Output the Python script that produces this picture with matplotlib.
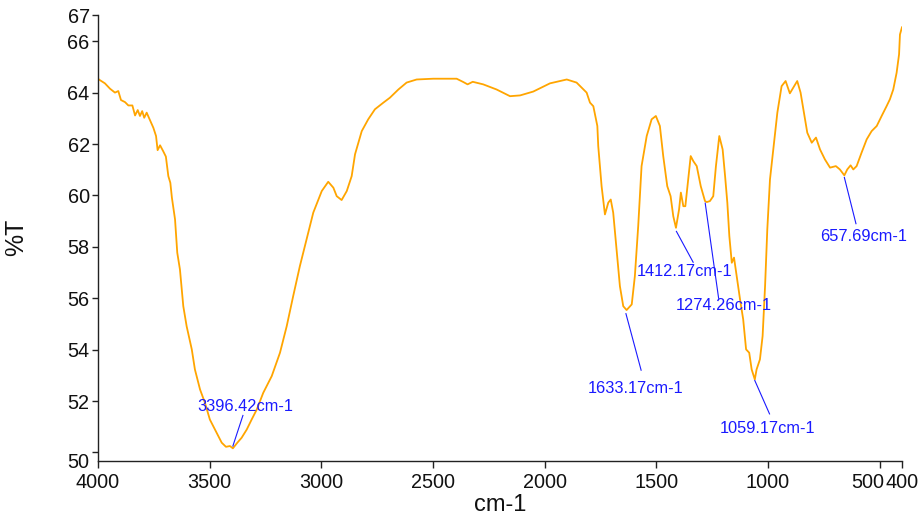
import matplotlib
matplotlib.use("Agg")
import matplotlib.pyplot as plt
from matplotlib.transforms import ScaledTranslation

plt.rcParams['font.family'] = ['Liberation Sans', 'DejaVu Sans']

# Spectrum (wavenumber cm-1, %T)
wavenumber = [4000, 3996, 3969, 3946, 3924, 3909, 3897, 3879, 3864, 3846, 3834, 3822, 3812,
              3802, 3793, 3782, 3767, 3752, 3740, 3733, 3722, 3708, 3696, 3685, 3676, 3669,
              3655, 3645, 3633, 3618, 3603, 3580, 3566, 3543, 3521, 3499, 3469, 3446, 3427,
              3409, 3396, 3376, 3357, 3334, 3312, 3289, 3260, 3222, 3185, 3155, 3126, 3096,
              3066, 3036, 2998, 2969, 2946, 2931, 2909, 2886, 2864, 2849, 2819, 2790, 2760,
              2722, 2693, 2655, 2618, 2573, 2499, 2394, 2364, 2345, 2322, 2275, 2215, 2155,
              2110, 2051, 1976, 1901, 1857, 1812, 1797, 1782, 1764, 1760, 1755, 1745, 1730,
              1715, 1704, 1693, 1678, 1663, 1648, 1633, 1610, 1596, 1581, 1566, 1543, 1521,
              1502, 1484, 1469, 1451, 1436, 1424, 1412, 1398, 1390, 1379, 1370, 1357, 1346,
              1334, 1319, 1301, 1282, 1274, 1260, 1245, 1233, 1218, 1203, 1192, 1182, 1173,
              1162, 1152, 1140, 1125, 1111, 1098, 1084, 1073, 1059, 1051, 1036, 1024, 1013,
              1003, 991, 976, 958, 939, 921, 902, 887, 869, 854, 839, 824, 804, 785, 767,
              745, 722, 696, 678, 658, 645, 630, 618, 603, 581, 558, 536, 513, 491, 469,
              454, 439, 424, 413, 409, 400]
transmittance = [64.55, 64.51, 64.36, 64.15, 64.00, 64.06, 63.71, 63.63, 63.50, 63.50, 63.11,
                 63.32, 63.09, 63.28, 63.02, 63.22, 62.93, 62.63, 62.31, 61.76, 61.95, 61.72,
                 61.51, 60.75, 60.49, 59.91, 59.07, 57.77, 57.12, 55.69, 54.91, 54.01, 53.23,
                 52.45, 51.93, 51.28, 50.77, 50.38, 50.22, 50.25, 50.16, 50.38, 50.57, 50.89,
                 51.28, 51.67, 52.32, 52.97, 53.88, 54.91, 56.08, 57.25, 58.29, 59.33, 60.17,
                 60.53, 60.30, 59.97, 59.82, 60.17, 60.75, 61.60, 62.50, 62.96, 63.35, 63.61,
                 63.80, 64.12, 64.39, 64.51, 64.54, 64.54, 64.41, 64.32, 64.42, 64.32, 64.12,
                 63.86, 63.89, 64.04, 64.36, 64.51, 64.39, 64.00, 63.61, 63.47, 62.70, 61.92,
                 61.40, 60.36, 59.26, 59.72, 59.84, 59.33, 57.90, 56.47, 55.69, 55.54, 55.76,
                 56.86, 58.81, 61.14, 62.31, 62.96, 63.09, 62.70, 61.53, 60.36, 59.97, 59.19,
                 58.74, 59.46, 60.11, 59.58, 59.58, 60.62, 61.53, 61.33, 61.14, 60.36, 59.78,
                 59.74, 59.78, 59.97, 61.14, 62.31, 61.79, 60.75, 59.72, 58.42, 57.38, 57.58,
                 56.86, 55.95, 55.18, 54.01, 53.88, 53.23, 52.84, 53.23, 53.62, 54.53, 56.47,
                 58.68, 60.62, 61.79, 63.22, 64.25, 64.45, 63.97, 64.19, 64.45, 64.00, 63.22,
                 62.44, 62.05, 62.25, 61.79, 61.40, 61.08, 61.14, 61.01, 60.78, 61.01, 61.17,
                 61.01, 61.14, 61.66, 62.18, 62.50, 62.70, 63.09, 63.47, 63.74, 64.12, 64.77,
                 65.49, 66.26, 66.54]

# Peak annotations: label, peak point, line end, text position
peak_labels = ["3396.42cm-1", "1633.17cm-1", "1412.17cm-1", "1274.26cm-1", "1059.17cm-1", "657.69cm-1"]
peak_x = [3396, 1636, 1410, 1281, 1059, 658]
peak_y = [50.25, 55.4, 58.6, 59.7, 52.8, 60.7]
line_end_x = [3351, 1568, 1335, 1221, 993, 606]
line_end_y = [51.44, 53.2, 57.4, 56.0, 51.5, 58.9]
text_x = [3342, 1591, 1372, 1200, 1000, 572]
text_y = [51.79, 52.49, 57.04, 55.7, 50.93, 58.4]

x_ticks = [4000, 3500, 3000, 2500, 2000, 1500, 1000, 500, 400]
y_ticks = [50, 52, 54, 56, 58, 60, 62, 64, 66, 67]

fig = plt.figure(figsize=(9.2, 5.16), dpi=100)
ax = fig.add_axes([0.1065, 0.1072, 0.8739, 0.8643])

ax.plot(wavenumber, transmittance, color='#FFA500', lw=1.3)

for lab, px, py, lx, ly, tx, ty in zip(peak_labels, peak_x, peak_y, line_end_x, line_end_y, text_x, text_y):
    ax.plot([px, lx], [py, ly], color='#1a1aff', lw=0.8)
    ax.text(tx, ty, lab, color='#1a1aff', fontsize=11.8, ha='center', va='center')

ax.set_xlim(4000, 400)
ax.set_ylim(49.68, 67.03)
ax.set_xticks(x_ticks)
ax.set_xticklabels([str(t) for t in x_ticks])
ax.set_yticks(y_ticks)
ax.set_yticklabels([str(t) for t in y_ticks])

for s in ['top', 'right']:
    ax.spines[s].set_visible(False)
for s in ['left', 'bottom']:
    ax.spines[s].set_linewidth(1.0)
    ax.spines[s].set_color('#222222')

ax.tick_params(axis='x', direction='out', length=5, width=1.0, labelsize=14.3, pad=4, colors='#222222', labelcolor='#111111')
ax.tick_params(axis='y', direction='out', length=4, width=1.0, labelsize=14.3, pad=2, colors='#222222', labelcolor='#111111')

# crowded labels: shift "500" left of its tick, "50" down below its tick
for lbl in ax.get_xticklabels():
    if lbl.get_text() == '500':
        lbl.set_horizontalalignment('right')
        lbl.set_transform(lbl.get_transform() + ScaledTranslation(5 / 100, 0, fig.dpi_scale_trans))
for lbl in ax.get_yticklabels():
    if lbl.get_text() == '50':
        lbl.set_transform(lbl.get_transform() + ScaledTranslation(0, -8 / 100, fig.dpi_scale_trans))

ax.set_xlabel('cm-1', fontsize=17, labelpad=1, color='#111111')
ax.set_ylabel('%T', fontsize=18, labelpad=28, color='#111111')

fig.savefig('out.png', dpi=100)
